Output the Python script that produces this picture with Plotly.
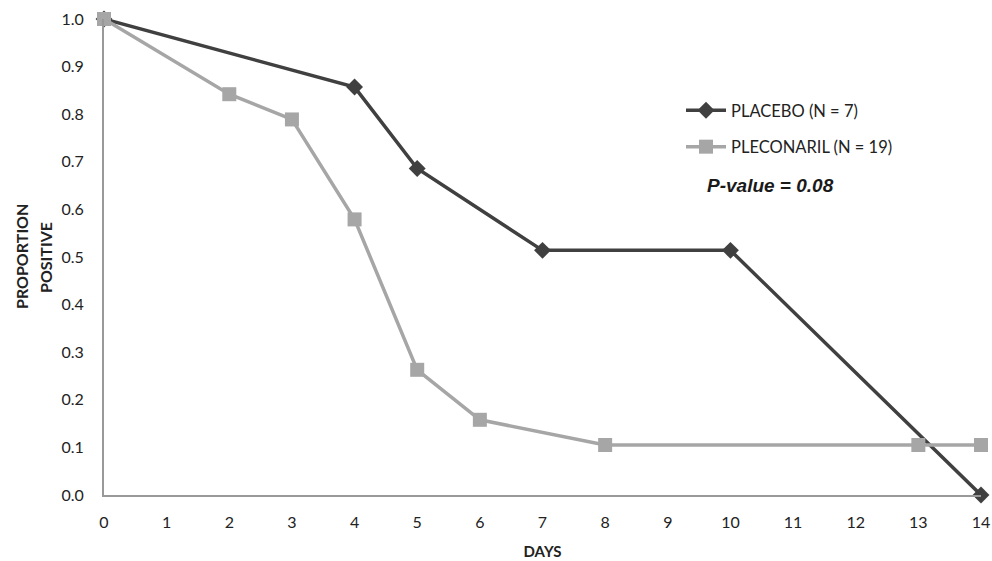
import plotly.graph_objects as go

placebo_days = [0, 4, 5, 7, 10, 14]
placebo_vals = [1.0, 0.857, 0.686, 0.514, 0.514, 0.0]
pleco_days = [0, 2, 3, 4, 5, 6, 8, 13, 14]
pleco_vals = [1.0, 0.842, 0.789, 0.579, 0.263, 0.158, 0.105, 0.105, 0.105]
x_ticks = list(range(0, 15))
y_ticks = [round(i * 0.1, 1) for i in range(11)]

font = "Lato, 'Open Sans', sans-serif"

W, H = 992, 561
L, R, T, B = 104, 11, 19, 66
PW, PH = W - L - R, H - T - B


def px(xp):
    return (xp - L) / PW


def py(yp):
    return 1 - (yp - T) / PH


fig = go.Figure()
fig.add_trace(go.Scatter(
    x=placebo_days, y=placebo_vals, mode="lines+markers", name="PLACEBO (N = 7)",
    legendgroup="a",
    line=dict(color="#404040", width=3.5),
    marker=dict(symbol="diamond", size=13, color="#404040"),
    cliponaxis=False))
fig.add_trace(go.Scatter(
    x=pleco_days, y=pleco_vals, mode="lines+markers", name="PLECONARIL (N = 19)",
    legendgroup="b",
    line=dict(color="#a6a6a6", width=3.5),
    marker=dict(symbol="square", size=14, color="#a6a6a6"),
    cliponaxis=False))

fig.add_annotation(x=px(705), y=py(185), xref="paper", yref="paper",
                   xanchor="left", yanchor="middle",
                   text="<b><i>P-value = 0.08</i></b>", showarrow=False,
                   font=dict(family="Liberation Sans, Arial, sans-serif", size=19, color="#1a1a1a"))
for xpos, txt in [(21, "PROPORTION"), (45, "POSITIVE")]:
    fig.add_annotation(x=px(xpos), y=py(257), xref="paper", yref="paper",
                       xanchor="center", yanchor="middle", textangle=-90,
                       text=f"<b>{txt}</b>", showarrow=False,
                       font=dict(size=16, color="#222222"))

fig.update_layout(
    width=W, height=H,
    margin=dict(l=L, r=R, t=T, b=B, autoexpand=False),
    paper_bgcolor="white", plot_bgcolor="white",
    font=dict(family=font, size=16, color="#222222"),
    showlegend=True,
    legend=dict(x=px(681), y=py(93), xanchor="left", yanchor="top",
                bgcolor="rgba(0,0,0,0)", traceorder="grouped",
                font=dict(size=16.5, color="#222222"), tracegroupgap=12, itemwidth=40),
    xaxis=dict(range=[0, 14], tickmode="array", tickvals=x_ticks, showgrid=False,
               zeroline=False, showline=True, linecolor="#999999", linewidth=2,
               ticks="", automargin=False, ticklabelstandoff=12,
               title=dict(text="<b>DAYS</b>", font=dict(size=15), standoff=16)),
    yaxis=dict(range=[0, 1.0], tickmode="array", tickvals=y_ticks,
               ticktext=[f"{v:.1f}" for v in y_ticks], showgrid=False,
               zeroline=False, showline=True, linecolor="#999999", linewidth=2,
               ticks="", ticklabelstandoff=15, automargin=False),
)

fig.write_html("out.html", config={"displayModeBar": False},
               post_script="document.body.style.margin='0';document.body.style.overflow='hidden';")
